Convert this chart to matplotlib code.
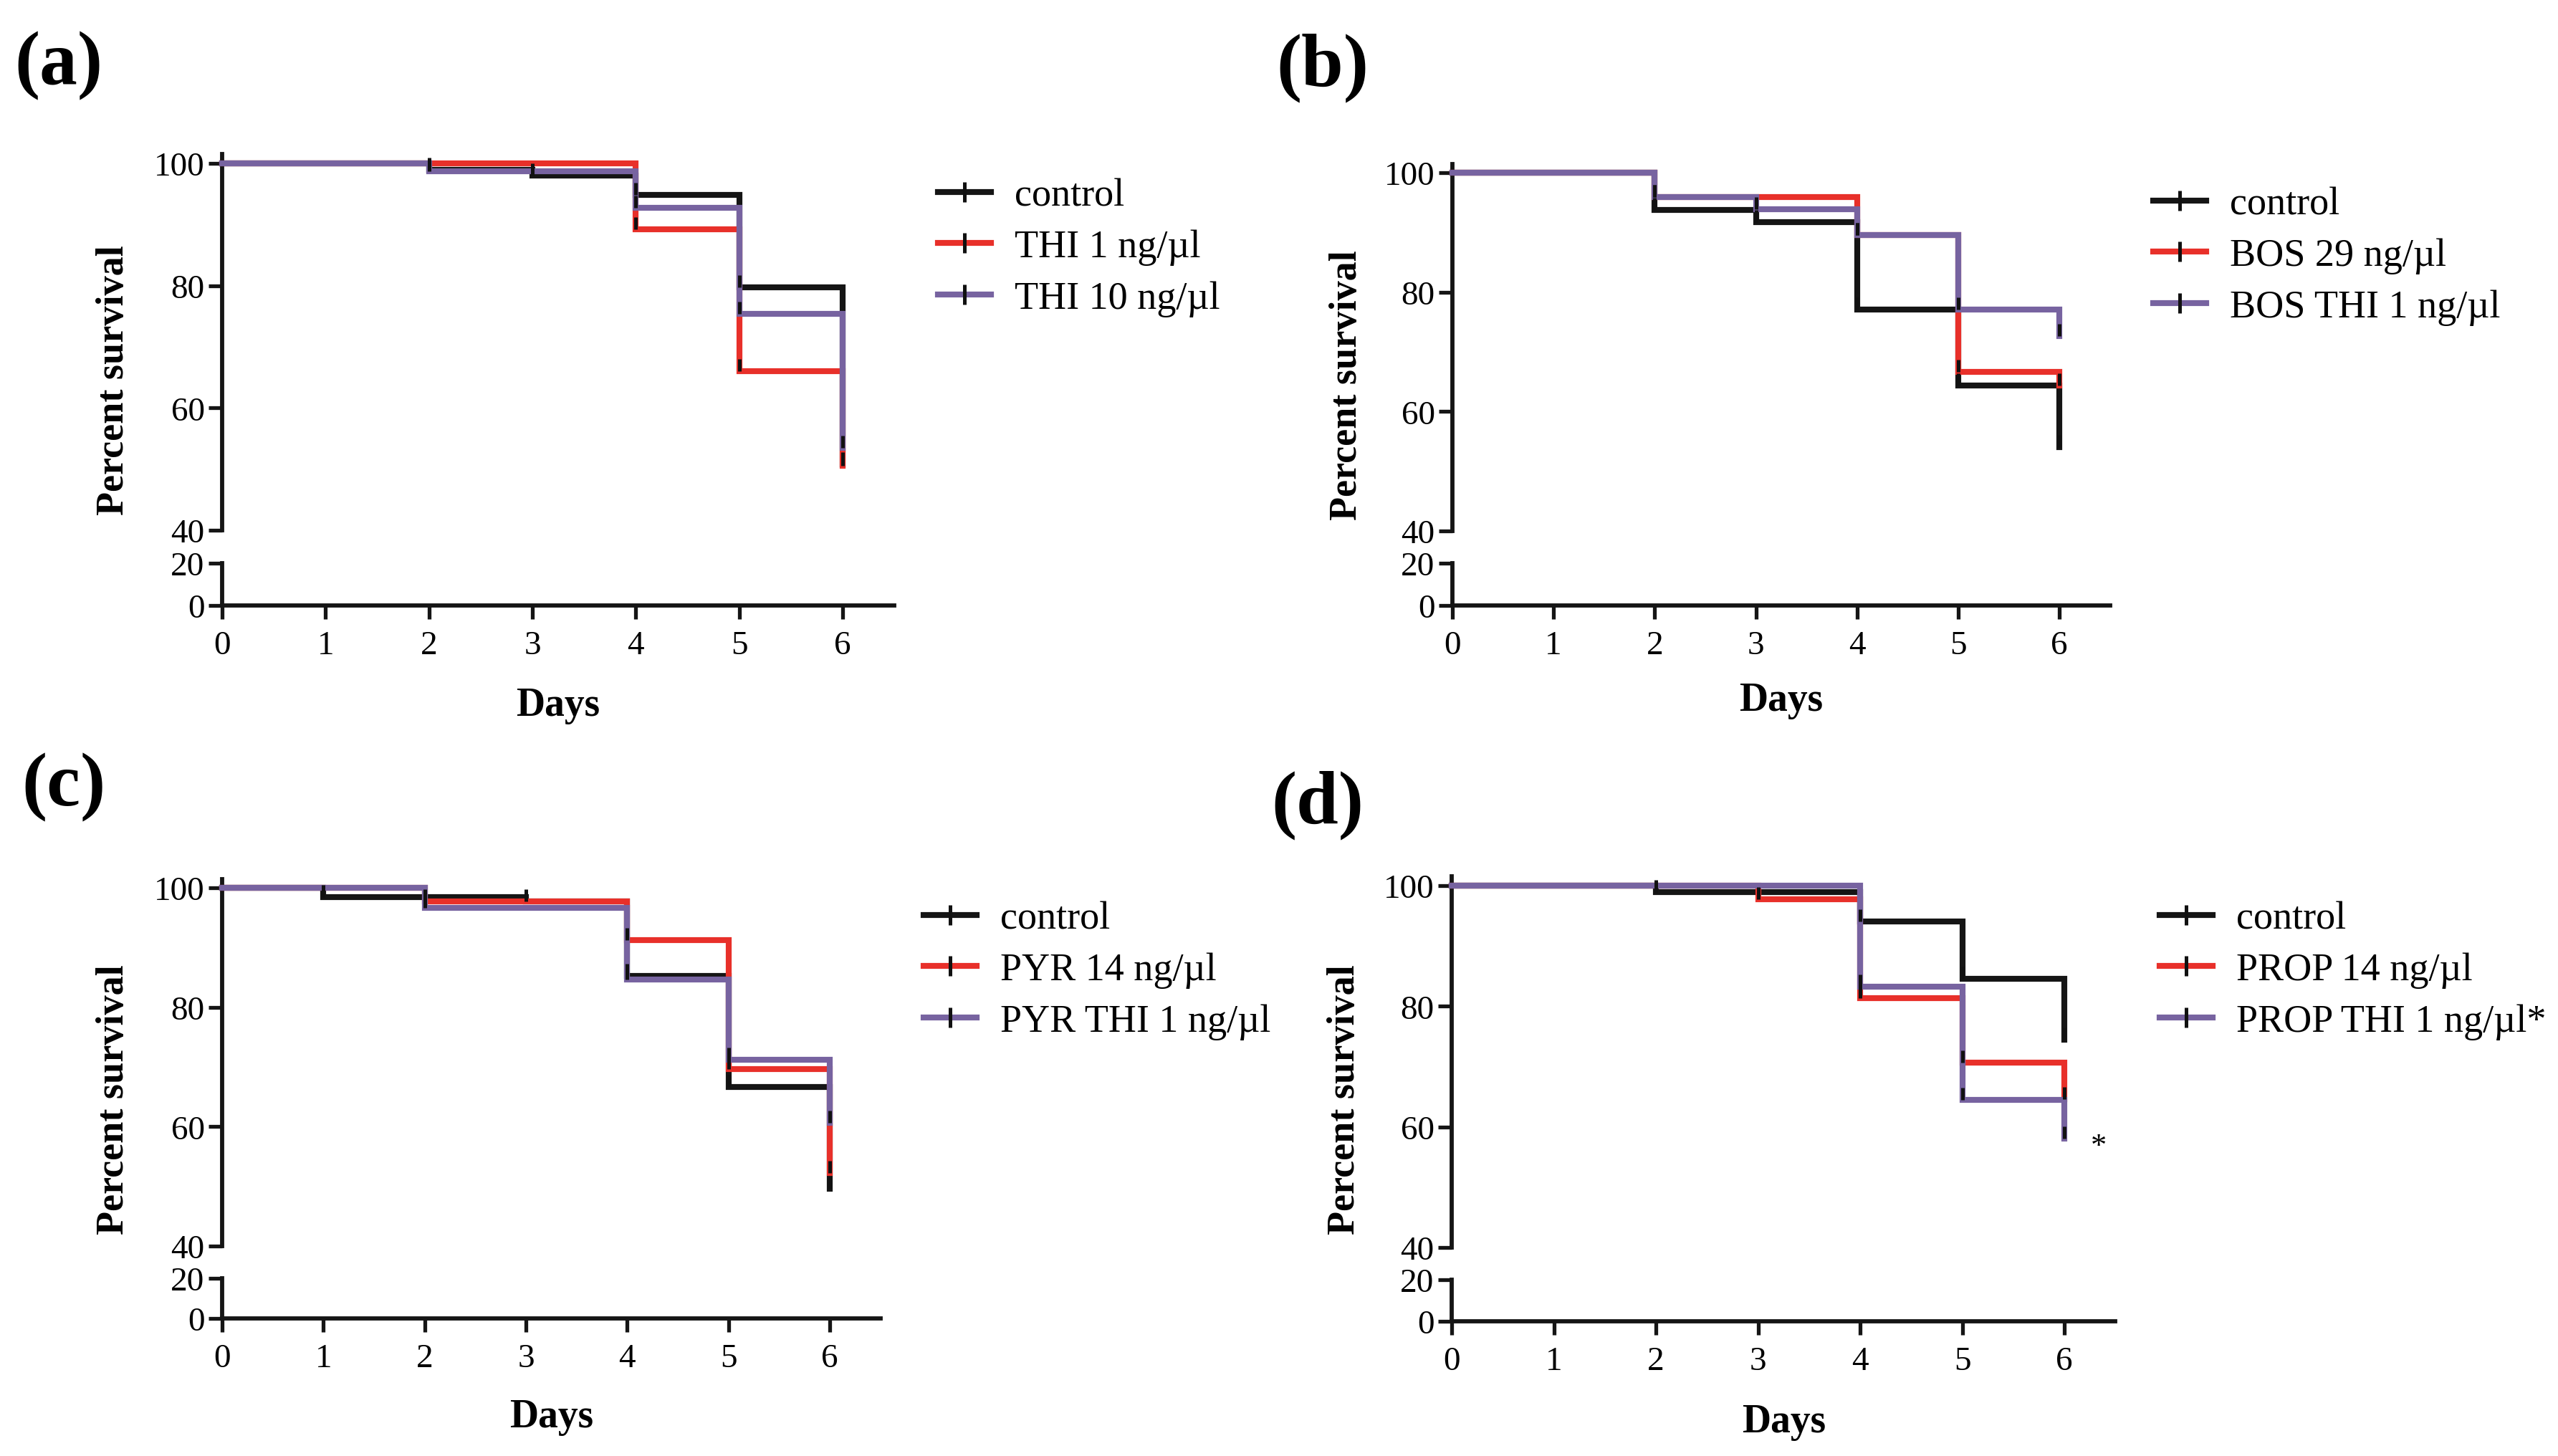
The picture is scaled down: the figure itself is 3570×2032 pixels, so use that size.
import matplotlib
matplotlib.use("Agg")
from matplotlib import pyplot as plt
from matplotlib.lines import Line2D
from matplotlib.path import Path

plt.rcParams['font.family'] = ['Liberation Serif', 'DejaVu Serif']

days = [0, 1, 2, 3, 4, 5, 6]

# percent survival from day i to day i+1 (last value = after the drop at day 6)
a_control = [100, 100, 98.9, 98.0, 94.8, 79.7, 50.8]
a_thi1 = [100, 100, 100, 100, 89.2, 66.0, 50.6]
a_thi10 = [100, 100, 98.7, 98.7, 92.7, 75.4, 53.5]

b_control = [100, 100, 93.8, 91.7, 77.1, 64.4, 54.0]
b_bos29 = [100, 100, 95.9, 95.9, 89.6, 66.7, 64.4]
b_bosthi = [100, 100, 95.9, 93.9, 89.6, 77.1, 72.6]

c_control = [100, 98.5, 98.5, 97.7, 85.2, 66.7, 49.6]
c_pyr14 = [100, 100, 97.7, 97.7, 91.2, 69.6, 52.2]
c_pyrthi = [100, 100, 96.7, 96.7, 84.6, 71.2, 60.7]

d_control = [100, 100, 98.9, 98.9, 94.1, 84.6, 74.5]
d_prop14 = [100, 100, 100, 97.8, 81.3, 70.7, 64.6]
d_propthi = [100, 100, 100, 100, 83.2, 64.5, 58.0]

labels_a = ['control', 'THI 1 ng/µl', 'THI 10 ng/µl']
labels_b = ['control', 'BOS 29 ng/µl', 'BOS THI 1 ng/µl']
labels_c = ['control', 'PYR 14 ng/µl', 'PYR THI 1 ng/µl']
labels_d = ['control', 'PROP 14 ng/µl', 'PROP THI 1 ng/µl*']

colors = ['#151515', '#e8302a', '#7763a0']

W, H = 3570, 2033
fig = plt.figure(figsize=(W / 100, H / 100), dpi=100)

# tick mark pointing up from the point (censor symbol)
censor = Path([[0, 0], [0, 1]])


def fx(px):
    return px / W


def fy(py):
    return 1 - py / H


def panel(letter, series, labels, x0, x6, y100, y40, y20, y0,
          lab_xy, ylab_x, xlab_y, leg_xy, star=None):
    pday = (x6 - x0) / 6.0
    xr = x0 + 6.5 * pday
    punit = (y40 - y100) / 60.0
    ytop = y40 - 61.5 * punit

    top = fig.add_axes([fx(x0), fy(y40), (xr - x0) / W, (y40 - ytop) / H])
    bot = fig.add_axes([fx(x0), fy(y0), (xr - x0) / W, (y0 - y20) / H])

    for ax in (top, bot):
        ax.set_xlim(0, 6.5)
        ax.patch.set_visible(False)
        for s in ('top', 'right'):
            ax.spines[s].set_visible(False)
        for s in ('left', 'bottom'):
            ax.spines[s].set_linewidth(4.2)
            ax.spines[s].set_color('#151515')
        ax.tick_params(length=14, width=3.8, color='#151515',
                       labelsize=34, pad=3.6)
        ax.tick_params(which='minor', direction='in', length=9, width=3.8,
                       color='#151515')

    top.spines['bottom'].set_visible(False)
    top.set_ylim(40, 101.5)
    top.set_yticks([40, 60, 80, 100])
    top.set_yticks([40], minor=True)
    top.set_xticks([])

    bot.set_ylim(0, 20)
    bot.set_yticks([0, 20])
    bot.set_yticks([20], minor=True)
    bot.set_xticks(days)
    bot.tick_params(axis='x', pad=10.5)

    for vals, c in zip(series, colors):
        top.plot(days, vals, drawstyle='steps-post', color=c, lw=5.9,
                 solid_joinstyle='miter', clip_on=False, zorder=3)
    for vals in series:
        for i in range(1, len(vals)):
            if vals[i] < vals[i - 1]:
                top.plot(days[i], vals[i], marker=censor, markersize=25,
                         mew=3.6, mec='#111111', ls='none', clip_on=False,
                         zorder=4)

    fig.text(fx(lab_xy[0]), fy(lab_xy[1]), '(' + letter + ')',
             fontsize=76, fontweight='bold', ha='left', va='center')
    fig.text(fx(ylab_x), fy((ytop + y0) / 2), 'Percent survival',
             fontsize=39, fontweight='bold', rotation=90,
             ha='center', va='center')
    fig.text(fx((x0 + xr) / 2), fy(xlab_y), 'Days', fontsize=40,
             fontweight='bold', ha='center', va='center')

    handles = [Line2D([], [], color=c, lw=5.9, marker='|', markersize=20,
                      mec='#111111', mew=3.6) for c in colors]
    top.legend(handles, labels, loc='upper left',
               bbox_to_anchor=(fx(leg_xy[0]), fy(leg_xy[1])),
               bbox_transform=fig.transFigure, frameon=False, fontsize=39,
               borderpad=0, borderaxespad=0, handlelength=1.37,
               handletextpad=0.6, labelspacing=0.39)

    if star is not None:
        top.text(star[0], star[1], '*', fontsize=32, ha='center',
                 va='center', clip_on=False)


panel('a', [a_control, a_thi1, a_thi10], labels_a,
      310, 1176, 229, 741, 787, 846,
      (20, 92), 159, 985, (1309, 249))
panel('b', [b_control, b_bos29, b_bosthi], labels_b,
      2027, 2874, 242, 742, 787, 846,
      (1781, 95), 1880, 978, (3005, 261))
panel('c', [c_control, c_pyr14, c_pyrthi], labels_c,
      310, 1158, 1240, 1740, 1785, 1841,
      (30, 1099), 159, 1978, (1289, 1258))
panel('d', [d_control, d_prop14, d_propthi], labels_d,
      2026, 2881, 1237, 1742, 1787, 1845,
      (1774, 1124), 1877, 1985, (3014, 1258), star=(6.34, 56.7))

fig.savefig('out.png', dpi=100, facecolor='white')
